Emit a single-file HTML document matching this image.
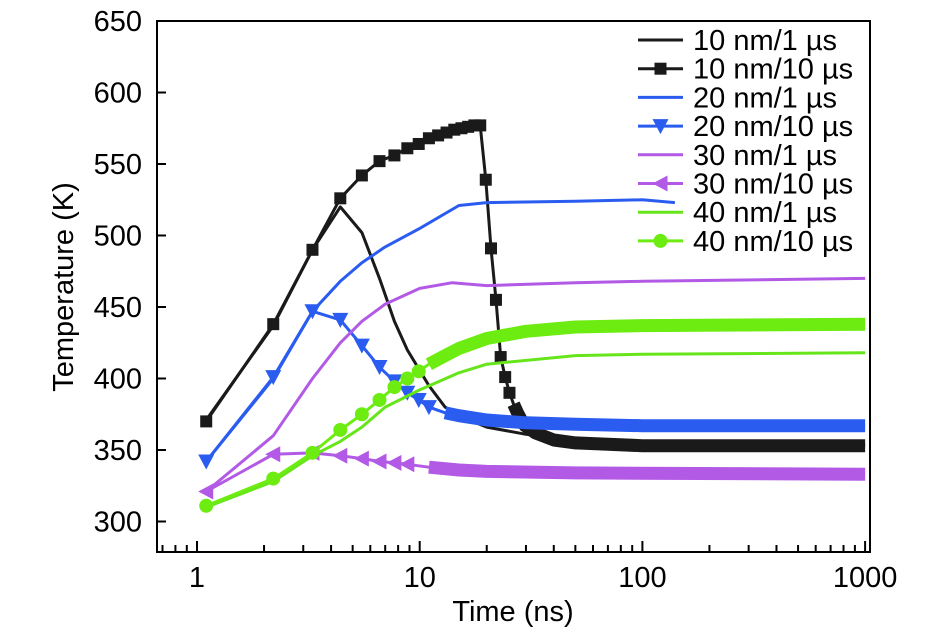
<!DOCTYPE html>
<html><head><meta charset="utf-8"><style>
body{margin:0;background:#fff;}
svg{display:block;font-family:"Liberation Sans",sans-serif;}
</style></head><body>
<svg id="chart" width="945" height="636" viewBox="0 0 945 636" xmlns="http://www.w3.org/2000/svg">
<g id="plot"></g>
<g id="axes"></g>
<g id="legend"></g>
</svg>
<script>
const yTicks=[300,350,400,450,500,550,600,650];
const xTicks=[1,10,100,1000];
const xTickLabels=["1","10","100","1000"];
const seriesNames=["10 nm/1 µs","10 nm/10 µs","20 nm/1 µs","20 nm/10 µs","30 nm/1 µs","30 nm/10 µs","40 nm/1 µs","40 nm/10 µs"];
const t_a=[1.1,2.2,3.3,4.4,5.5,6.6,7.7,8.8,11,13,16,20,30,50,100,1000];
const v_a=[371,437,490,520,502,470,440,420,395,380,372,366,361,357,355,354];
const t_b=[1.1,2.2,3.3,4.4,5.5,6.6,7.7,8.8,9.9,11,12.1,13.2,14.3,15.4,16.5,17.6,18.7,19.8,20.9,22,23.1,24.2,25.3,26.4,27.5,28.6,29.7,33,40,50,70,100,1000];
const v_b=[370,438,490,526,542,552,556,561,564,568,570,572,574,575,576,577,577,539,491,455,415,401,390,382,376,371,367,362,357,355,354,353,353];
const t_c=[1.1,2.2,3.3,4.4,5.5,7,10,15,20,50,100,140];
const v_c=[342,400,447,468,481,492,505,521,523,524,525,523];
const t_d=[1.1,2.2,3.3,4.4,5.5,6.6,7.7,8.8,9.9,11,13,15,20,30,50,100,1000];
const v_d=[342,401,447,441,423,408,398,390,385,380,376,374,371,369,368,367,367];
const t_e=[1.1,2.2,3.3,4.4,5.5,7,10,14,20,50,100,1000];
const v_e=[321,360,400,425,440,452,463,467,465,467,468,470];
const t_f=[1.1,2.2,3.3,4.4,5.5,6.6,7.7,8.8,11,15,20,50,1000];
const v_f=[321,347,348,346,344,342,341,340,338,336,335,334,333];
const t_g=[1.1,2.2,3.3,4.4,5.5,7,10,15,20,50,100,1000];
const v_g=[310,328,346,356,366,380,392,404,410,416,417,418];
const t_h=[1.1,2.2,3.3,4.4,5.5,6.6,7.7,8.8,9.9,11,13,15,20,30,50,100,1000];
const v_h=[311,330,348,364,375,385,394,400,405,410,416,421,428,433,436,437,438];

const NS="http://www.w3.org/2000/svg";
const X0=157,X1=870,Y0=21,Y1=552;
function xs(t){return 197+222.7*Math.log10(t);}
function ys(v){return 521.5-(v-300)*1.43;}
function mk(tag,attrs,parent){const e=document.createElementNS(NS,tag);for(const k in attrs)e.setAttribute(k,attrs[k]);parent.appendChild(e);return e;}
const plot=document.getElementById('plot'),axes=document.getElementById('axes'),legend=document.getElementById('legend');

const cfg=[
 {t:t_a,v:v_a,c:"#1a1a1a",m:null,w:3},
 {t:t_b,v:v_b,c:"#1a1a1a",m:"square",w:3,band:26},
 {t:t_c,v:v_c,c:"#2b5cf0",m:null,w:3},
 {t:t_d,v:v_d,c:"#2b5cf0",m:"down",w:3,band:12},
 {t:t_e,v:v_e,c:"#b25ae6",m:null,w:3},
 {t:t_f,v:v_f,c:"#b25ae6",m:"left",w:3,band:9},
 {t:t_g,v:v_g,c:"#66e61a",m:null,w:3},
 {t:t_h,v:v_h,c:"#6cec10",m:"circle",w:3,band:11}
];
function marker(type,x,y,c,g){
  let e;
  if(type==="square")e=mk('rect',{x:x-6,y:y-6,width:12,height:12,fill:c},g);
  else if(type==="down")e=mk('polygon',{points:`${x-8},${y-7} ${x+8},${y-7} ${x},${y+8}`,fill:c},g);
  else if(type==="left")e=mk('polygon',{points:`${x-8},${y} ${x+7},${y-8} ${x+7},${y+8}`,fill:c},g);
  else e=mk('circle',{cx:x,cy:y,r:7,fill:c},g);
  return e;
}
cfg.forEach((s,i)=>{
  const g=mk('g',{},plot);
  
  
  const pts=s.t.map((t,j)=>xs(t).toFixed(1)+','+ys(s.v[j]).toFixed(1)).join(' ');
  const ln=mk('polyline',{points:pts,fill:'none',stroke:s.c,'stroke-width':s.w,'stroke-linejoin':'round'},g);
  
  
  if(s.m){
    const bp=[];
    s.t.forEach((t,j)=>{
      if(t>=s.band){bp.push(xs(t).toFixed(1)+','+ys(s.v[j]).toFixed(1));}
      else{
        const e=marker(s.m,xs(t),ys(s.v[j]),s.c,g);
        
        
      }
    });
    const b=mk('polyline',{points:bp.join(' '),fill:'none',stroke:s.c,'stroke-width':13,'stroke-linejoin':'round'},g);
    
    
  }
});

const fr=mk('rect',{x:X0,y:Y0,width:X1-X0,height:Y1-Y0,fill:'none',stroke:'#000','stroke-width':2},axes);


yTicks.forEach(v=>{
  const y=ys(v);
  mk('line',{x1:X0,x2:X0+9,y1:y,y2:y,stroke:'#000','stroke-width':2},axes);
  const tx=mk('text',{x:142,y:y+10,'font-size':29,'text-anchor':'end',fill:'#000'},axes);
  tx.textContent=v;
  
  
});
for(let d=0;d<4;d++){
  for(let k=1;k<10;k++){
    const t=Math.pow(10,d)*k; if(t>1000)break;
    const x=xs(t); if(x<X0)continue;
    mk('line',{x1:x,x2:x,y1:Y1,y2:Y1-(k===1?11:7),stroke:'#000','stroke-width':2},axes);
  }
}
for(let k=7;k<10;k++){const x=xs(k/10);if(x>X0)mk('line',{x1:x,x2:x,y1:Y1,y2:Y1-7,stroke:'#000','stroke-width':2},axes);}
xTicks.forEach((t,i)=>{
  const tx=mk('text',{x:xs(t),y:587,'font-size':29,'text-anchor':'middle',fill:'#000'},axes);
  tx.textContent=xTickLabels[i];
  
  
});
const xt=mk('text',{x:513,y:621,'font-size':29,'text-anchor':'middle',fill:'#000'},axes);
xt.textContent="Time (ns)";


const yt=mk('text',{x:0,y:0,'font-size':29,'text-anchor':'middle',fill:'#000',transform:'translate(73,287) rotate(-90)'},axes);
yt.textContent="Temperature (K)";



cfg.forEach((s,i)=>{
  const y=40+i*28.7;
  const g=mk('g',{},legend);
  
  
  mk('line',{x1:638,x2:683,y1:y,y2:y,stroke:s.c,'stroke-width':3},g);
  if(s.m)marker(s.m,660.5,y,s.c,g);
  const tx=mk('text',{x:693,y:y+10,'font-size':29,fill:'#000'},g);
  tx.textContent=seriesNames[i];
});
</script>
</body></html>
